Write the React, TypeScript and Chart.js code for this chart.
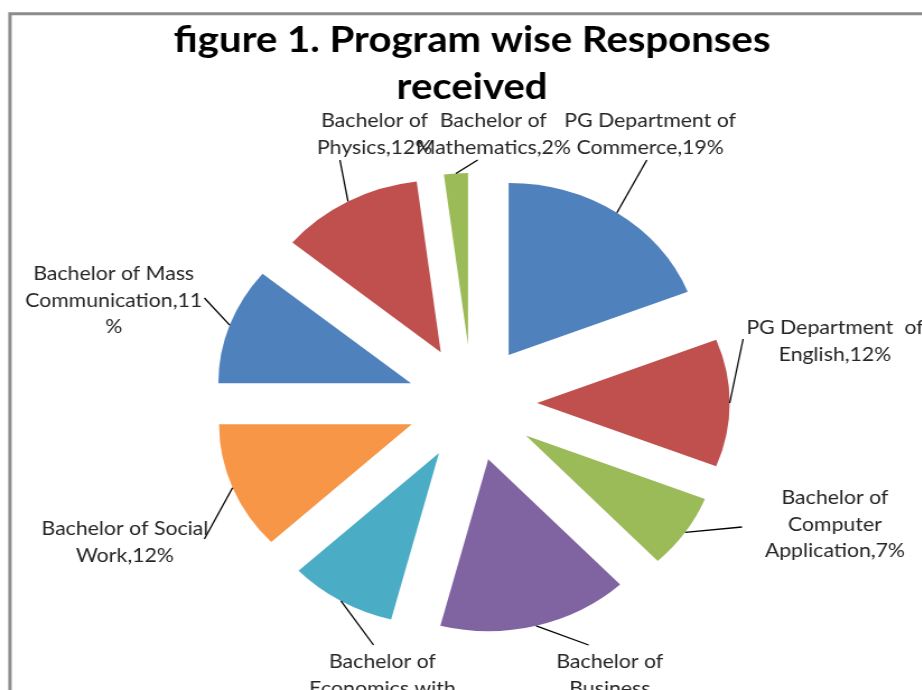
import React, { useEffect, useRef } from "react";
import { Chart, registerables, ArcElement, PieController } from "chart.js";

Chart.register(...registerables);

// ---------- data ----------
const categories = [
  "PG Department of Commerce",
  "PG Department of English",
  "Bachelor of Computer Application",
  "Bachelor of Business Administration",
  "Bachelor of Economics with Computer Application",
  "Bachelor of Social Work",
  "Bachelor of Mass Communication",
  "Bachelor of Physics",
  "Bachelor of Mathematics",
];
const values = [19, 12, 7, 16, 9, 12, 11, 12, 2];
const colors = [
  "#4F81BD",
  "#C0504D",
  "#9BBB59",
  "#8064A2",
  "#4BACC6",
  "#F79646",
  "#4F81BD",
  "#C0504D",
  "#9BBB59",
];
const labelLines = [
  ["PG Department of", "Commerce,19%"],
  ["PG Department  of", "English,12%"],
  ["Bachelor of", "Computer", "Application,7%"],
  ["Bachelor of", "Business", "Administration,16%"],
  ["Bachelor of", "Economics with", "Computer Application,9%"],
  ["Bachelor of Social", "Work,12%"],
  ["Bachelor of Mass", "Communication,11", "%"],
  ["Bachelor of", "Physics,12%"],
  ["Bachelor of", "Mathematics,2%"],
];
const titleLines = ["figure 1. Program wise Responses", "received"];

// ---------- label layout (relative to pie centre, unstretched px) ----------
const labelLayout = [
  { end: [156, -243], text: [159, -282] },
  { end: [242, -64], text: [324, -75] },
  { end: [241, 124], text: [324, 95] },
  { end: [104, 242], text: [123, 259] },
  { end: [-88, 242], text: [-80, 259] },
  { end: [-239, 136], text: [-310, 126] },
  { end: [-239, -105], text: [-320, -129] },
  { end: [-118, -243], text: [-87, -282] },
  { end: [5, -243], text: [19, -282] },
];

const SX = 1.12;
const CW = 843;
const CH = 690;
const FONT = "Lato, 'Open Sans', sans-serif";

class ExplodedArc extends ArcElement {
  static id = "explodedArc";
  static defaults = { ...(ArcElement as any).defaults, explode: 0 };
  draw(ctx: CanvasRenderingContext2D) {
    const e = (this as any).options.explode || 0;
    const half = ((this as any).startAngle + (this as any).endAngle) / 2;
    ctx.save();
    ctx.translate(Math.cos(half) * e, Math.sin(half) * e);
    super.draw(ctx);
    ctx.restore();
  }
}
class ExplodedPieController extends PieController {
  static id = "explodedPie";
  static defaults = { dataElementType: "explodedArc" };
}
Chart.register(ExplodedArc as any, ExplodedPieController as any);

const framePlugin = {
  id: "frame",
  beforeDraw(chart: any) {
    const ctx = chart.ctx;
    ctx.save();
    ctx.fillStyle = "#fff";
    ctx.fillRect(0, 0, chart.width, chart.height);
    ctx.strokeStyle = "#8c8c8c";
    ctx.lineWidth = 3;
    ctx.beginPath();
    ctx.moveTo(8.9, chart.height + 10);
    ctx.lineTo(8.9, 13.8);
    ctx.lineTo(chart.width + 10, 13.8);
    ctx.stroke();
    ctx.restore();
  },
};

const labelPlugin = {
  id: "pieLabels",
  afterDatasetsDraw(chart: any) {
    const ctx = chart.ctx;
    const meta = chart.getDatasetMeta(0);
    ctx.save();
    meta.data.forEach((arc: any, i: number) => {
      const p = arc.getProps(["x", "y", "startAngle", "endAngle", "outerRadius"], true);
      const e = arc.options.explode || 0;
      const mid = (p.startAngle + p.endAngle) / 2;
      const r = p.outerRadius + e;
      const sx = p.x + Math.cos(mid) * r;
      const sy = p.y + Math.sin(mid) * r;
      const lay = labelLayout[i];
      ctx.strokeStyle = "#000";
      ctx.lineWidth = 1.3;
      ctx.beginPath();
      ctx.moveTo(sx, sy);
      ctx.lineTo(p.x + lay.end[0], p.y + lay.end[1]);
      ctx.stroke();
      ctx.fillStyle = "#262626";
      ctx.font = `19px ${FONT}`;
      ctx.textAlign = "center";
      ctx.textBaseline = "middle";
      labelLines[i].forEach((t, k) => {
        ctx.fillText(t, p.x + lay.text[0], p.y + lay.text[1] + k * 26.5);
      });
    });
    ctx.restore();
  },
};

export default function App() {
  const ref = useRef<HTMLCanvasElement | null>(null);
  useEffect(() => {
    if (!ref.current) return;
    const chart = new Chart(ref.current, {
      type: "explodedPie" as any,
      data: {
        labels: categories,
        datasets: [
          {
            data: values,
            backgroundColor: colors,
            borderWidth: 0,
            explode: 58,
            clip: false,
          } as any,
        ],
      },
      options: {
        responsive: false,
        animation: false,
        layout: { padding: { left: 0, right: 0, top: 0, bottom: 115 } },
        plugins: {
          legend: { display: false },
          tooltip: { enabled: false },
          title: {
            display: true,
            text: titleLines,
            color: "#000",
            font: { family: FONT, size: 35.8, weight: "bold", lineHeight: 47 / 35.8 },
            padding: { top: 16.5, bottom: 120.5 },
          },
        },
      } as any,
      plugins: [framePlugin, labelPlugin],
    });
    return () => chart.destroy();
  }, []);
  return (
    <div
      style={{
        position: "absolute",
        left: 0,
        top: 0,
        width: 922,
        height: 690,
        overflow: "hidden",
        background: "#fff",
      }}
    >
      <div style={{ transform: `scaleX(${SX})`, transformOrigin: "0 0", width: CW, height: CH }}>
        <canvas ref={ref} width={CW} height={CH} style={{ display: "block" }} />
      </div>
    </div>
  );
}
